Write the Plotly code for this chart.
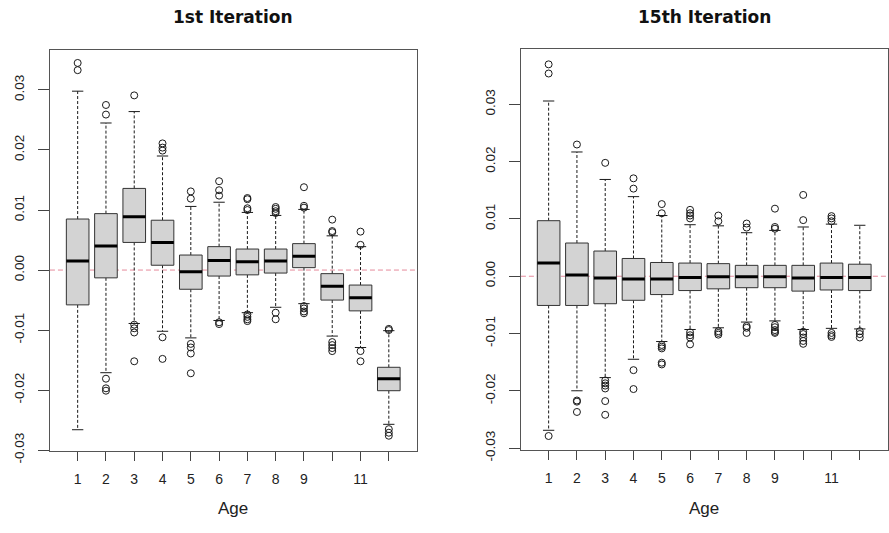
import plotly.graph_objects as go

ages = list(range(1, 13))
age_labels = ["1", "2", "3", "4", "5", "6", "7", "8", "9", "", "11", ""]
y_ticks = [-0.03, -0.02, -0.01, 0.0, 0.01, 0.02, 0.03]
y_tick_labels = ["-0.03", "-0.02", "-0.01", "0.00", "0.01", "0.02", "0.03"]

# ---- 1st iteration: residual summaries by age ----
it1_low = [-0.0266, -0.0171, -0.0089, -0.0102, -0.0113, -0.0084, -0.0071, -0.0062, -0.0056, -0.0110, -0.0129, -0.0257]
it1_q1 = [-0.0058, -0.0013, 0.0046, 0.0008, -0.0032, -0.0010, -0.0008, -0.0005, 0.0004, -0.0050, -0.0068, -0.0201]
it1_med = [0.0015, 0.0040, 0.0089, 0.0046, -0.0003, 0.0016, 0.0014, 0.0015, 0.0023, -0.0027, -0.0046, -0.0181]
it1_q3 = [0.0085, 0.0094, 0.0136, 0.0083, 0.0025, 0.0039, 0.0035, 0.0035, 0.0044, -0.0006, -0.0025, -0.0162]
it1_high = [0.0298, 0.0245, 0.0264, 0.0190, 0.0106, 0.0113, 0.0096, 0.0091, 0.0101, 0.0057, 0.0039, -0.0101]
it1_out = [
    [0.0345, 0.0333],
    [0.0275, 0.0259, -0.0181, -0.0197, -0.0201],
    [0.0291, -0.0091, -0.0097, -0.0104, -0.0152],
    [0.0211, 0.0204, 0.0199, -0.0112, -0.0148],
    [0.0131, 0.0119, -0.0123, -0.0129, -0.0139, -0.0172],
    [0.0148, 0.0133, 0.0124, -0.0087, -0.0090],
    [0.0120, 0.0118, 0.0103, 0.0100, -0.0074, -0.0078, -0.0082, -0.0085],
    [0.0105, 0.0102, 0.0098, 0.0095, -0.0071, -0.0082],
    [0.0138, 0.0107, 0.0104, -0.0060, -0.0064, -0.0069, -0.0072],
    [0.0084, 0.0065, 0.0063, -0.0120, -0.0125, -0.0130, -0.0135],
    [0.0064, 0.0042, -0.0135, -0.0152],
    [-0.0098, -0.0100, -0.0265, -0.0271, -0.0276],
]

# ---- 15th iteration: residual summaries by age ----
it15_low = [-0.0269, -0.0200, -0.0177, -0.0145, -0.0114, -0.0093, -0.0090, -0.0080, -0.0078, -0.0093, -0.0091, -0.0092]
it15_q1 = [-0.0051, -0.0051, -0.0048, -0.0042, -0.0032, -0.0025, -0.0022, -0.0020, -0.0020, -0.0026, -0.0024, -0.0025]
it15_med = [0.0023, 0.0002, -0.0003, -0.0005, -0.0005, -0.0002, -0.0001, -0.0001, -0.0001, -0.0003, -0.0002, -0.0002]
it15_q3 = [0.0097, 0.0058, 0.0044, 0.0031, 0.0024, 0.0023, 0.0022, 0.0019, 0.0019, 0.0019, 0.0023, 0.0021]
it15_high = [0.0306, 0.0217, 0.0169, 0.0139, 0.0106, 0.0090, 0.0088, 0.0076, 0.0080, 0.0086, 0.0091, 0.0089]
it15_out = [
    [0.0370, 0.0354, -0.0279],
    [0.0230, -0.0217, -0.0219, -0.0237],
    [0.0198, -0.0182, -0.0187, -0.0191, -0.0196, -0.0218, -0.0242],
    [0.0171, 0.0153, -0.0164, -0.0197],
    [0.0126, 0.0110, -0.0120, -0.0123, -0.0126, -0.0151, -0.0154],
    [0.0116, 0.0110, 0.0106, 0.0101, -0.0098, -0.0103, -0.0107, -0.0119],
    [0.0106, 0.0096, -0.0096, -0.0099, -0.0102],
    [0.0092, 0.0085, -0.0087, -0.0090, -0.0099],
    [0.0118, 0.0086, 0.0083, -0.0085, -0.0089, -0.0094, -0.0097, -0.0099],
    [0.0142, 0.0098, -0.0097, -0.0101, -0.0107, -0.0113, -0.0118],
    [0.0105, 0.0101, 0.0096, -0.0099, -0.0103, -0.0106],
    [-0.0096, -0.0101, -0.0107],
]

BOX_HALF = 0.4
STAPLE_HALF = 0.2
INK = "#1a1a1a"


def boxplot_traces(low, q1, med, q3, high, outliers, xa, ya):
    bx, by, wx, wy, sx, sy, mx, my, ox, oy = ([] for _ in range(10))
    for i, a in enumerate(ages):
        l, r = a - BOX_HALF, a + BOX_HALF
        bx += [l, r, r, l, l, None]
        by += [q1[i], q1[i], q3[i], q3[i], q1[i], None]
        wx += [a, a, None, a, a, None]
        wy += [q3[i], high[i], None, q1[i], low[i], None]
        sx += [a - STAPLE_HALF, a + STAPLE_HALF, None, a - STAPLE_HALF, a + STAPLE_HALF, None]
        sy += [high[i], high[i], None, low[i], low[i], None]
        mx += [l, r, None]
        my += [med[i], med[i], None]
        for v in outliers[i]:
            ox.append(a)
            oy.append(v)
    common = dict(xaxis=xa, yaxis=ya, showlegend=False, hoverinfo="skip")
    return [
        go.Scatter(x=wx, y=wy, mode="lines", line=dict(color=INK, width=1, dash="3px,2px"), **common),
        go.Scatter(x=sx, y=sy, mode="lines", line=dict(color=INK, width=1), **common),
        go.Scatter(x=bx, y=by, mode="lines", fill="toself", fillcolor="#d3d3d3",
                   line=dict(color="#333333", width=1), **common),
        go.Scatter(x=mx, y=my, mode="lines", line=dict(color="#000000", width=3), **common),
        go.Scatter(x=ox, y=oy, mode="markers",
                   marker=dict(symbol="circle-open", size=7, color=INK, line=dict(width=1, color=INK)),
                   **common),
    ]


fig = go.Figure()
for tr in boxplot_traces(it1_low, it1_q1, it1_med, it1_q3, it1_high, it1_out, "x", "y"):
    fig.add_trace(tr)
for tr in boxplot_traces(it15_low, it15_q1, it15_med, it15_q3, it15_high, it15_out, "x2", "y2"):
    fig.add_trace(tr)

# zero reference lines
for xa, ya in (("x", "y"), ("x2", "y2")):
    fig.add_shape(type="line", xref=f"{xa} domain", yref=ya, x0=0, x1=1, y0=0, y1=0,
                  line=dict(color="#e58a9c", width=1, dash="5px,3px"), layer="below")

tick_font = dict(family="Liberation Sans, Arial, sans-serif", size=14, color="#222222")
xaxis_common = dict(
    range=[0.02, 12.98], tickmode="array", tickvals=ages, ticktext=age_labels,
    ticks="outside", ticklen=9, tickcolor="#444444", tickwidth=1,
    showline=True, mirror=True, linecolor="#555555", linewidth=1,
    showgrid=False, zeroline=False, tickfont=tick_font, ticklabelstandoff=6,
)
yaxis_common = dict(
    tickmode="array", tickvals=y_ticks, ticktext=y_tick_labels, tickangle=-90,
    ticks="outside", ticklen=11, tickcolor="#444444", tickwidth=1,
    showline=True, mirror=True, linecolor="#555555", linewidth=1,
    showgrid=False, zeroline=False, tickfont=dict(tick_font, size=13.5), ticklabelstandoff=9,
)

fig.update_layout(
    width=889, height=533,
    margin=dict(l=0, r=0, t=0, b=0),
    paper_bgcolor="white", plot_bgcolor="white",
    xaxis=dict(xaxis_common, domain=[50 / 889, 417 / 889], anchor="y"),
    yaxis=dict(yaxis_common, domain=[71 / 533, 482 / 533], range=[-0.0301, 0.0367], anchor="x"),
    xaxis2=dict(xaxis_common, domain=[521.5 / 889, 888.5 / 889], anchor="y2"),
    yaxis2=dict(yaxis_common, domain=[72 / 533, 482.3 / 533], range=[-0.0303, 0.0396], anchor="x2"),
)

title_font = dict(family="DejaVu Sans, sans-serif", size=17, color="#111111", weight="bold")
label_font = dict(family="Liberation Sans, Arial, sans-serif", size=17, color="#222222")
for cx, title in ((233.5 / 889, "1st Iteration"), (705 / 889, "15th Iteration")):
    fig.add_annotation(text=f"<b>{title}</b>", x=cx, y=1 - 17 / 533, xref="paper", yref="paper",
                       xanchor="center", yanchor="middle", showarrow=False, font=title_font)
    fig.add_annotation(text="Age", x=cx, y=1 - 521.5 / 533, xref="paper", yref="paper",
                       xanchor="center", yanchor="middle", showarrow=False, font=label_font)

fig.write_html("out.html")
